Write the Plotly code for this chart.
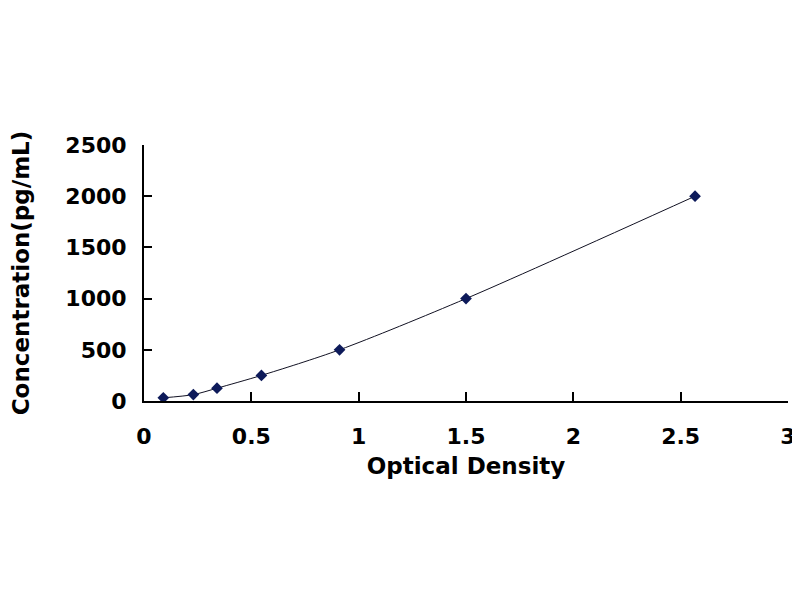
import plotly.graph_objects as go

# standard curve values
od = [0.09, 0.23, 0.34, 0.547, 0.911, 1.5, 2.567]
conc = [31.25, 62.5, 125, 250, 500, 1000, 2000]

x_ticks = [0, 0.5, 1, 1.5, 2, 2.5, 3]
x_labels = ["0", "0.5", "1", "1.5", "2", "2.5", "3"]
y_ticks = [0, 500, 1000, 1500, 2000, 2500]

fnt = "DejaVu Sans"

fig = go.Figure()
fig.add_trace(go.Scatter(
    x=od, y=conc, mode="lines+markers",
    line=dict(color="#111122", width=1, shape="spline", smoothing=0.8),
    marker=dict(symbol="diamond", size=9, color="#0d1a5a"),
    showlegend=False,
))

# page body has an 8px margin, so the figure is 792x592
fig.update_layout(
    width=792, height=592,
    margin=dict(l=136, r=12, t=137, b=199),
    paper_bgcolor="white", plot_bgcolor="white",
    font=dict(family=fnt, color="black"),
)
fig.update_xaxes(
    range=[0, 3], tickvals=x_ticks, ticktext=x_labels,
    showgrid=False, zeroline=False, automargin=False,
    showline=True, linecolor="black", linewidth=2,
    ticks="inside", ticklen=9, tickwidth=2, tickcolor="black",
    ticklabelstandoff=15,
    tickfont=dict(family=fnt, size=22, color="black", weight="bold"),
    title=dict(text="Optical Density", standoff=9,
               font=dict(family=fnt, size=23, color="black", weight="bold")),
)
fig.update_yaxes(
    range=[0, 2500], tickvals=y_ticks,
    showgrid=False, zeroline=False, automargin=False,
    showline=True, linecolor="black", linewidth=2,
    ticks="inside", ticklen=8, tickwidth=2, tickcolor="black",
    ticklabelstandoff=11,
    tickfont=dict(family=fnt, size=22, color="black", weight="bold"),
    title=dict(text="Concentration(pg/mL)", standoff=31,
               font=dict(family=fnt, size=23, color="black", weight="bold")),
)

fig.write_html("out.html")
